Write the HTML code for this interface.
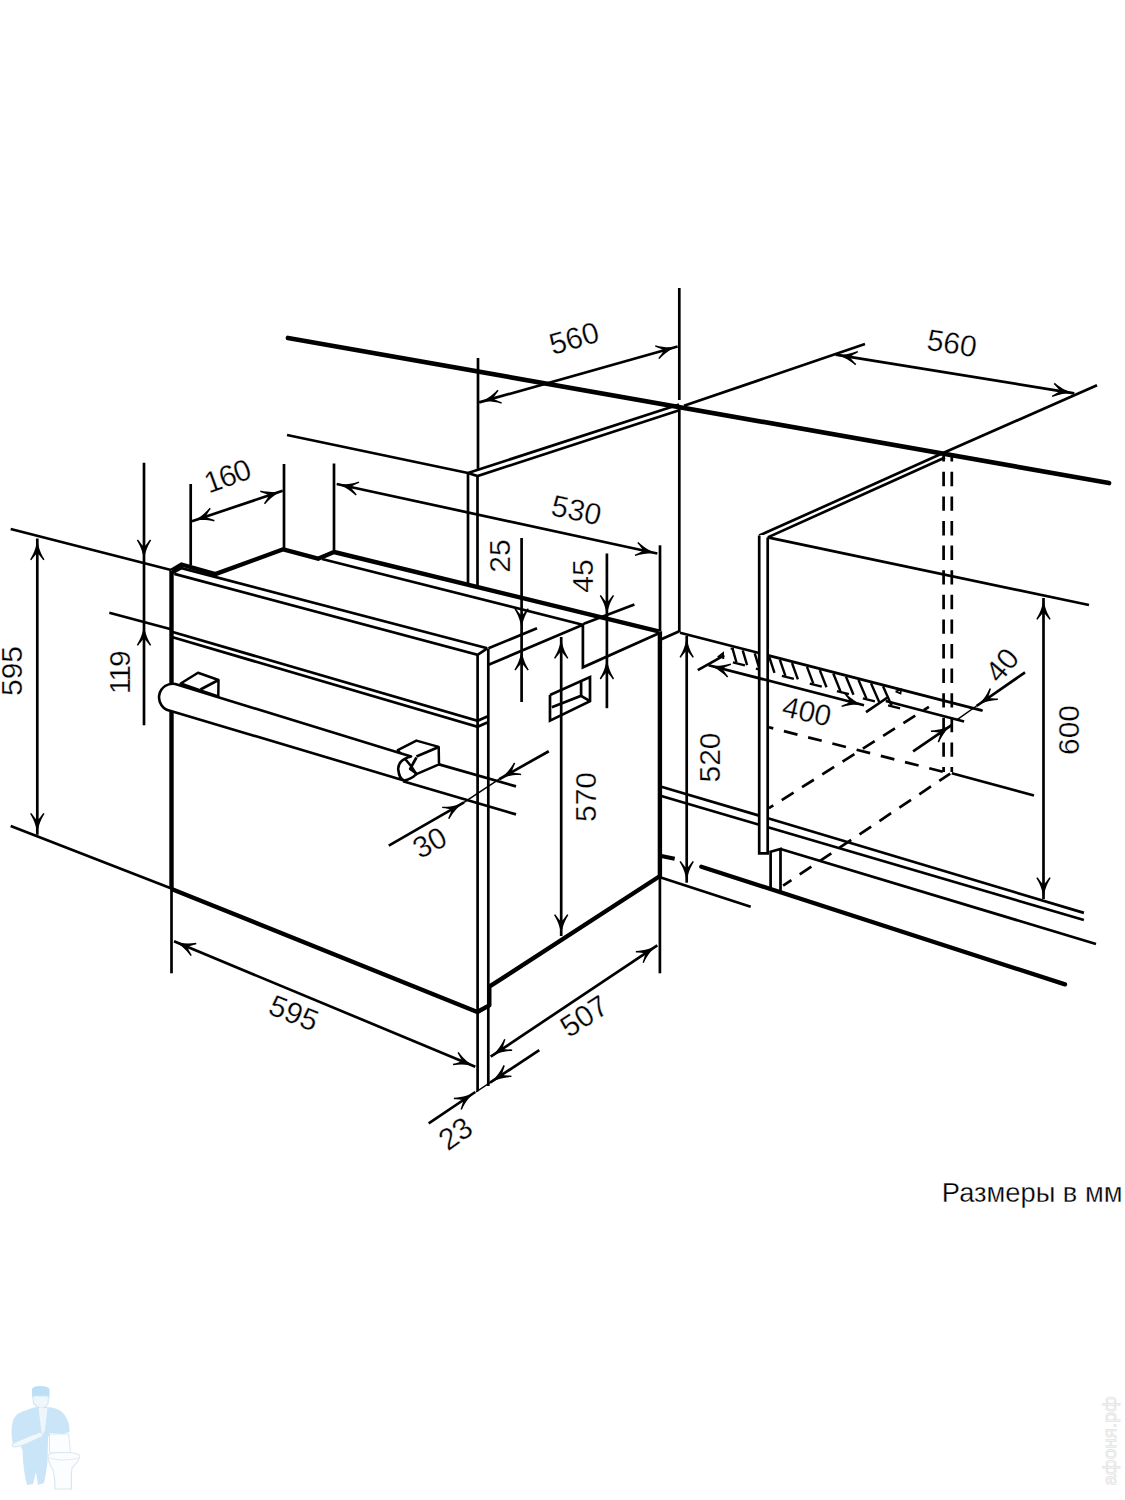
<!DOCTYPE html>
<html><head><meta charset="utf-8"><style>
html,body{margin:0;padding:0;background:#fff;overflow:hidden;}
svg{display:block;}
</style></head><body>
<svg width="1125" height="1500" viewBox="0 0 1125 1500">
<rect width="1125" height="1500" fill="#fff"/>
<g>
<!-- jacket -->
<path d="M27,1410 Q36,1406 40,1407.5 L46,1407 Q58,1407 64,1414 Q70,1422 69.5,1432 L63,1434 L50,1433 L48,1438 L47.5,1462 Q46,1474 44,1483 L38,1485 L36,1472 L33,1484 L27,1485 Q23,1470 22.5,1450 L20,1445 L13,1444 Q10,1432 13,1420 Q17,1412 27,1410 Z" fill="#c9e5f7"/>
<!-- cap -->
<path d="M32,1397.5 L32,1389 Q33,1386 40,1386 Q48,1386 49.5,1389 L49.5,1397.5 Z" fill="#bddff5"/>
<!-- face -->
<path d="M33,1396 L48.5,1396 L48,1404 Q44,1409 40,1408 Q35,1406 33.5,1403 Z" fill="#eef7fc" stroke="#cfe6f5" stroke-width="1.1"/>
<!-- shirt -->
<path d="M38.5,1408 L47.5,1408 L45,1430 L42,1436 Z" fill="#eef6fb"/>
<!-- pipe/arm -->
<path d="M12,1444 Q20,1440 30,1436 L41,1432 L43,1436 L30,1442 Q20,1447 13,1447 Z" fill="#f1f8fc" stroke="#d3e7f4" stroke-width="1"/>
<!-- toilet tank -->
<path d="M49.5,1434 L68.5,1434 Q70,1444 70.5,1453 L49.5,1453 Z" fill="#fbfdff" stroke="#dde6ee" stroke-width="1"/>
<!-- bowl -->
<path d="M48,1456 Q48,1452.5 63,1452.5 Q80,1452.5 79.8,1456.5 Q79,1461 72,1468 Q71,1476 71.5,1489 L55,1489 Q55,1478 53,1470 Q48,1462 48,1456 Z" fill="#fbfdff" stroke="#dce5ee" stroke-width="1.1"/>
<path d="M49,1458 Q63,1462 79,1458" fill="none" stroke="#e0e8ef" stroke-width="0.9"/>
</g>
<text transform="translate(1109,1441) rotate(-90)" x="0" y="0" font-family="Liberation Sans, sans-serif" font-size="19" text-anchor="middle" dominant-baseline="central" fill="#fcfcfc" stroke="#e4e4e4" stroke-width="0.8">афоня.рф</text>

<g stroke="#000" fill="none" stroke-linecap="butt">
<path d="M288.0,338.0 L1109.0,483.0" stroke-width="4.7" stroke-linecap="round"/>
<path d="M287.0,435.0 L468.0,473.0" stroke-width="2.7"/>
<path d="M478.0,358.0 L478.0,470.0" stroke-width="2.7"/>
<path d="M468.0,473.0 L468.0,585.0" stroke-width="2.7"/>
<path d="M477.5,476.0 L477.5,585.0" stroke-width="2.7"/>
<path d="M468.0,473.0 L679.0,404.5" stroke-width="2.7"/>
<path d="M468.0,473.0 L477.5,476.0 L680.0,410.0" stroke-width="2.7"/>
<path d="M679.3,288.0 L679.3,400.0" stroke-width="2.7"/>
<path d="M679.3,407.0 L679.3,632.0" stroke-width="2.7"/>
<path d="M661.3,639.3 L679.3,631.3" stroke-width="2.7"/>
<path d="M479.2,402.4 L677.6,346.5" stroke-width="2.7"/>
<path fill="#000" stroke="none" transform="translate(479.2,402.4) rotate(254.3) scale(1.0)" d="M0,0 C0.6,6 2.2,13 7.2,21 L6.0,21.8 C3.2,18 1.6,16 1.0,15.5 L-1.0,15.5 C-1.6,16 -3.2,18 -6.0,21.8 L-7.2,21 C-2.2,13 -0.6,6 0,0 Z"/>
<path fill="#000" stroke="none" transform="translate(677.6,346.5) rotate(74.3) scale(1.0)" d="M0,0 C0.6,6 2.2,13 7.2,21 L6.0,21.8 C3.2,18 1.6,16 1.0,15.5 L-1.0,15.5 C-1.6,16 -3.2,18 -6.0,21.8 L-7.2,21 C-2.2,13 -0.6,6 0,0 Z"/>
<text font-family="Liberation Sans, sans-serif" fill="#000" stroke="#fff" stroke-width="0.3" x="574.0" y="338.0" font-size="30" text-anchor="middle" dominant-baseline="central" transform="rotate(-16 574.0 338.0)">560</text>
<path d="M684.0,405.8 L865.0,344.0" stroke-width="2.7"/>
<path d="M835.7,354.7 L1074.3,393.3" stroke-width="2.7"/>
<path fill="#000" stroke="none" transform="translate(835.7,354.7) rotate(-80.8) scale(1.0)" d="M0,0 C0.6,6 2.2,13 7.2,21 L6.0,21.8 C3.2,18 1.6,16 1.0,15.5 L-1.0,15.5 C-1.6,16 -3.2,18 -6.0,21.8 L-7.2,21 C-2.2,13 -0.6,6 0,0 Z"/>
<path fill="#000" stroke="none" transform="translate(1074.3,393.3) rotate(99.2) scale(1.0)" d="M0,0 C0.6,6 2.2,13 7.2,21 L6.0,21.8 C3.2,18 1.6,16 1.0,15.5 L-1.0,15.5 C-1.6,16 -3.2,18 -6.0,21.8 L-7.2,21 C-2.2,13 -0.6,6 0,0 Z"/>
<path d="M943.7,452.8 L1097.0,385.3" stroke-width="2.7"/>
<text font-family="Liberation Sans, sans-serif" fill="#000" stroke="#fff" stroke-width="0.3" x="952.0" y="343.0" font-size="30" text-anchor="middle" dominant-baseline="central" transform="rotate(9 952.0 343.0)">560</text>
<path d="M759.2,535.6 L943.7,452.8" stroke-width="2.7"/>
<path d="M759.2,535.6 L767.7,537.4 L945.0,457.5" stroke-width="2.7"/>
<path d="M767.7,537.4 L1089.0,605.0" stroke-width="2.7"/>
<path d="M943.6,455.0 L943.6,772.0" stroke-width="2.7" stroke-dasharray="14.4 10.2" stroke-dashoffset="7.8"/>
<path d="M951.8,455.0 L951.8,772.0" stroke-width="2.7" stroke-dasharray="14.4 10.2" stroke-dashoffset="7.8"/>
<path d="M1043.5,598.0 L1043.5,899.0" stroke-width="2.7"/>
<path fill="#000" stroke="none" transform="translate(1043.5,598.0) rotate(0.0) scale(1.0)" d="M0,0 C0.6,6 2.2,13 7.2,21 L6.0,21.8 C3.2,18 1.6,16 1.0,15.5 L-1.0,15.5 C-1.6,16 -3.2,18 -6.0,21.8 L-7.2,21 C-2.2,13 -0.6,6 0,0 Z"/>
<path fill="#000" stroke="none" transform="translate(1043.5,899.0) rotate(180.0) scale(1.0)" d="M0,0 C0.6,6 2.2,13 7.2,21 L6.0,21.8 C3.2,18 1.6,16 1.0,15.5 L-1.0,15.5 C-1.6,16 -3.2,18 -6.0,21.8 L-7.2,21 C-2.2,13 -0.6,6 0,0 Z"/>
<text font-family="Liberation Sans, sans-serif" fill="#000" stroke="#fff" stroke-width="0.3" x="1068.0" y="730.0" font-size="30" text-anchor="middle" dominant-baseline="central" transform="rotate(-90 1068.0 730.0)">600</text>
<path d="M10.7,529.0 L171.0,570.0" stroke-width="2.7"/>
<path d="M10.7,826.0 L171.5,888.5" stroke-width="2.7"/>
<path d="M37.3,538.5 L37.3,834.7" stroke-width="2.7"/>
<path fill="#000" stroke="none" transform="translate(37.3,538.5) rotate(0.0) scale(1.0)" d="M0,0 C0.6,6 2.2,13 7.2,21 L6.0,21.8 C3.2,18 1.6,16 1.0,15.5 L-1.0,15.5 C-1.6,16 -3.2,18 -6.0,21.8 L-7.2,21 C-2.2,13 -0.6,6 0,0 Z"/>
<path fill="#000" stroke="none" transform="translate(37.3,834.7) rotate(180.0) scale(1.0)" d="M0,0 C0.6,6 2.2,13 7.2,21 L6.0,21.8 C3.2,18 1.6,16 1.0,15.5 L-1.0,15.5 C-1.6,16 -3.2,18 -6.0,21.8 L-7.2,21 C-2.2,13 -0.6,6 0,0 Z"/>
<text font-family="Liberation Sans, sans-serif" fill="#000" stroke="#fff" stroke-width="0.3" x="11.0" y="671.0" font-size="30" text-anchor="middle" dominant-baseline="central" transform="rotate(-90 11.0 671.0)">595</text>
<path d="M144.0,462.7 L144.0,725.3" stroke-width="2.7"/>
<path fill="#000" stroke="none" transform="translate(144.0,561.3) rotate(180.0) scale(1.0)" d="M0,0 C0.6,6 2.2,13 7.2,21 L6.0,21.8 C3.2,18 1.6,16 1.0,15.5 L-1.0,15.5 C-1.6,16 -3.2,18 -6.0,21.8 L-7.2,21 C-2.2,13 -0.6,6 0,0 Z"/>
<path fill="#000" stroke="none" transform="translate(144.0,624.0) rotate(0.0) scale(1.0)" d="M0,0 C0.6,6 2.2,13 7.2,21 L6.0,21.8 C3.2,18 1.6,16 1.0,15.5 L-1.0,15.5 C-1.6,16 -3.2,18 -6.0,21.8 L-7.2,21 C-2.2,13 -0.6,6 0,0 Z"/>
<text font-family="Liberation Sans, sans-serif" fill="#000" stroke="#fff" stroke-width="0.3" x="120.0" y="672.3" font-size="30" text-anchor="middle" dominant-baseline="central" textLength="44" lengthAdjust="spacing" transform="rotate(-90 120.0 672.3)">119</text>
<path d="M109.3,612.8 L171.0,629.3" stroke-width="2.7"/>
<path d="M190.7,484.0 L190.7,565.0" stroke-width="2.7"/>
<path d="M284.0,464.0 L284.0,549.0" stroke-width="2.7"/>
<path d="M192.0,521.3 L282.7,490.7" stroke-width="2.7"/>
<path fill="#000" stroke="none" transform="translate(192.0,521.3) rotate(251.4) scale(1.0)" d="M0,0 C0.6,6 2.2,13 7.2,21 L6.0,21.8 C3.2,18 1.6,16 1.0,15.5 L-1.0,15.5 C-1.6,16 -3.2,18 -6.0,21.8 L-7.2,21 C-2.2,13 -0.6,6 0,0 Z"/>
<path fill="#000" stroke="none" transform="translate(282.7,490.7) rotate(71.4) scale(1.0)" d="M0,0 C0.6,6 2.2,13 7.2,21 L6.0,21.8 C3.2,18 1.6,16 1.0,15.5 L-1.0,15.5 C-1.6,16 -3.2,18 -6.0,21.8 L-7.2,21 C-2.2,13 -0.6,6 0,0 Z"/>
<text font-family="Liberation Sans, sans-serif" fill="#000" stroke="#fff" stroke-width="0.3" x="227.5" y="475.7" font-size="30" text-anchor="middle" dominant-baseline="central" textLength="47.5" lengthAdjust="spacing" transform="rotate(-20 227.5 475.7)">160</text>
<path d="M171.5,570.7 L171.5,889.0" stroke-width="4.4"/>
<path d="M171.5,889.0 L171.5,973.3" stroke-width="2.7"/>
<path d="M171.5,570.7 L181.5,564.5 L215.3,574.1 L283.3,549.3 L318.0,558.7 L334.0,552.0 L658.7,631.3" stroke-width="4.4" stroke-linejoin="round"/>
<path d="M322.0,559.0 L582.7,624.7" stroke-width="2.7"/>
<path d="M172.5,573.0 L181.5,568.1 L487.3,648.3" stroke-width="2.7" stroke-linejoin="round"/>
<path d="M174.3,573.9 L477.6,654.8 L487.3,648.3" stroke-width="2.7"/>
<path d="M172.7,632.0 L477.6,720.8 L487.3,716.4" stroke-width="2.7"/>
<path d="M172.7,637.3 L477.6,726.7 L487.3,722.4" stroke-width="2.7"/>
<path d="M477.6,654.0 L477.6,1091.3" stroke-width="2.7"/>
<path d="M488.3,648.5 L488.3,1086.0" stroke-width="2.7"/>
<path d="M171.5,889.0 L477.3,1012.0 L489.3,1005.3 L489.3,986.7 L660.0,876.0" stroke-width="4.4" stroke-linejoin="round"/>
<path d="M659.9,631.3 L659.9,877.3" stroke-width="4.4"/>
<path d="M659.9,877.3 L659.9,973.3" stroke-width="2.7"/>
<path d="M488.5,664.8 L582.9,624.7 L582.9,667.3 L658.4,633.6" stroke-width="2.7"/>
<path d="M488.5,648.3 L537.0,628.2" stroke-width="2.7"/>
<path d="M583.8,623.8 L634.4,604.6" stroke-width="2.7"/>
<path d="M521.6,538.0 L521.6,702.0" stroke-width="2.7"/>
<path fill="#000" stroke="none" transform="translate(521.6,630.0) rotate(180.0) scale(1.0)" d="M0,0 C0.6,6 2.2,13 7.2,21 L6.0,21.8 C3.2,18 1.6,16 1.0,15.5 L-1.0,15.5 C-1.6,16 -3.2,18 -6.0,21.8 L-7.2,21 C-2.2,13 -0.6,6 0,0 Z"/>
<path fill="#000" stroke="none" transform="translate(521.6,648.7) rotate(0.0) scale(1.0)" d="M0,0 C0.6,6 2.2,13 7.2,21 L6.0,21.8 C3.2,18 1.6,16 1.0,15.5 L-1.0,15.5 C-1.6,16 -3.2,18 -6.0,21.8 L-7.2,21 C-2.2,13 -0.6,6 0,0 Z"/>
<text font-family="Liberation Sans, sans-serif" fill="#000" stroke="#fff" stroke-width="0.3" x="499.4" y="556.0" font-size="30" text-anchor="middle" dominant-baseline="central" transform="rotate(-90 499.4 556.0)">25</text>
<path d="M606.9,553.5 L606.9,708.2" stroke-width="2.7"/>
<path fill="#000" stroke="none" transform="translate(606.9,616.7) rotate(180.0) scale(1.0)" d="M0,0 C0.6,6 2.2,13 7.2,21 L6.0,21.8 C3.2,18 1.6,16 1.0,15.5 L-1.0,15.5 C-1.6,16 -3.2,18 -6.0,21.8 L-7.2,21 C-2.2,13 -0.6,6 0,0 Z"/>
<path fill="#000" stroke="none" transform="translate(606.9,657.6) rotate(0.0) scale(1.0)" d="M0,0 C0.6,6 2.2,13 7.2,21 L6.0,21.8 C3.2,18 1.6,16 1.0,15.5 L-1.0,15.5 C-1.6,16 -3.2,18 -6.0,21.8 L-7.2,21 C-2.2,13 -0.6,6 0,0 Z"/>
<text font-family="Liberation Sans, sans-serif" fill="#000" stroke="#fff" stroke-width="0.3" x="582.7" y="576.0" font-size="30" text-anchor="middle" dominant-baseline="central" transform="rotate(-90 582.7 576.0)">45</text>
<path d="M334.0,463.5 L334.0,550.7" stroke-width="2.7"/>
<path d="M660.0,545.3 L660.0,631.0" stroke-width="2.7"/>
<path d="M336.7,484.0 L657.3,553.5" stroke-width="2.7"/>
<path fill="#000" stroke="none" transform="translate(336.7,484.0) rotate(-77.8) scale(1.0)" d="M0,0 C0.6,6 2.2,13 7.2,21 L6.0,21.8 C3.2,18 1.6,16 1.0,15.5 L-1.0,15.5 C-1.6,16 -3.2,18 -6.0,21.8 L-7.2,21 C-2.2,13 -0.6,6 0,0 Z"/>
<path fill="#000" stroke="none" transform="translate(657.3,553.5) rotate(102.2) scale(1.0)" d="M0,0 C0.6,6 2.2,13 7.2,21 L6.0,21.8 C3.2,18 1.6,16 1.0,15.5 L-1.0,15.5 C-1.6,16 -3.2,18 -6.0,21.8 L-7.2,21 C-2.2,13 -0.6,6 0,0 Z"/>
<text font-family="Liberation Sans, sans-serif" fill="#000" stroke="#fff" stroke-width="0.3" x="576.5" y="510.0" font-size="30" text-anchor="middle" dominant-baseline="central" transform="rotate(12 576.5 510.0)">530</text>
<path d="M561.2,637.0 L561.2,936.0" stroke-width="2.7"/>
<path fill="#000" stroke="none" transform="translate(561.2,637.0) rotate(0.0) scale(1.0)" d="M0,0 C0.6,6 2.2,13 7.2,21 L6.0,21.8 C3.2,18 1.6,16 1.0,15.5 L-1.0,15.5 C-1.6,16 -3.2,18 -6.0,21.8 L-7.2,21 C-2.2,13 -0.6,6 0,0 Z"/>
<path fill="#000" stroke="none" transform="translate(561.2,936.0) rotate(180.0) scale(1.0)" d="M0,0 C0.6,6 2.2,13 7.2,21 L6.0,21.8 C3.2,18 1.6,16 1.0,15.5 L-1.0,15.5 C-1.6,16 -3.2,18 -6.0,21.8 L-7.2,21 C-2.2,13 -0.6,6 0,0 Z"/>
<text font-family="Liberation Sans, sans-serif" fill="#000" stroke="#fff" stroke-width="0.3" x="585.6" y="797.0" font-size="30" text-anchor="middle" dominant-baseline="central" transform="rotate(-90 585.6 797.0)">570</text>
<path d="M686.7,636.0 L686.7,882.7" stroke-width="2.7"/>
<path fill="#000" stroke="none" transform="translate(686.7,636.0) rotate(0.0) scale(1.0)" d="M0,0 C0.6,6 2.2,13 7.2,21 L6.0,21.8 C3.2,18 1.6,16 1.0,15.5 L-1.0,15.5 C-1.6,16 -3.2,18 -6.0,21.8 L-7.2,21 C-2.2,13 -0.6,6 0,0 Z"/>
<path fill="#000" stroke="none" transform="translate(686.7,882.7) rotate(180.0) scale(1.0)" d="M0,0 C0.6,6 2.2,13 7.2,21 L6.0,21.8 C3.2,18 1.6,16 1.0,15.5 L-1.0,15.5 C-1.6,16 -3.2,18 -6.0,21.8 L-7.2,21 C-2.2,13 -0.6,6 0,0 Z"/>
<text font-family="Liberation Sans, sans-serif" fill="#000" stroke="#fff" stroke-width="0.3" x="709.0" y="757.5" font-size="30" text-anchor="middle" dominant-baseline="central" transform="rotate(-90 709.0 757.5)">520</text>
<path d="M550.0,694.9 L590.0,677.1 L590.0,701.1 L550.0,720.7 L550.0,694.9" stroke-width="2.7"/>
<path d="M551.8,707.3 L581.1,695.8 L581.1,680.7" stroke-width="2.7"/>
<path d="M581.1,695.8 L590.0,701.1" stroke-width="2.7"/>
<path d="M180.7,683.5 L198,672.8 L218.5,680 L218.3,696.5 L200.5,690.5 Z" fill="#fff" stroke-width="2.5" stroke-linejoin="round"/>
<path d="M200.5,689.5 L218.5,680.0" stroke-width="2.7"/>
<path d="M397.8,750.2 L416.4,740.6 L438.7,746.9 L439,764.4 L416.4,774.2 L411,766 Z" fill="#fff" stroke-width="2.5" stroke-linejoin="round"/>
<path d="M416.4,756.4 L438.7,746.9" stroke-width="2.7"/>
<path d="M175.3,684 L411.1,756.4 C402,758.5 397.5,764 398.3,770 C399,776 401.5,779.5 404,780.4 L170,710.7 A13.4,13.4 0 0,1 175.3,684 Z" fill="#fff" stroke-width="2.6" stroke-linejoin="round"/>
<path d="M404,780.4 C408.5,780 413,777.5 416.4,774.2" stroke-width="2.5"/>
<path d="M416.4,757.5 L410.2,768.9 L416.4,773.5" stroke-width="2.7" stroke-linejoin="round"/>
<path d="M439.0,764.4 L516.0,786.4" stroke-width="2.7"/>
<path d="M403.1,781.3 L516.0,814.4" stroke-width="2.7"/>
<path d="M464.0,802.4 L499.2,779.2" stroke-width="1.5"/>
<path d="M388.8,845.6 L464.0,802.4" stroke-width="2.7"/>
<path d="M499.2,779.2 L548.8,751.2" stroke-width="2.7"/>
<path fill="#000" stroke="none" transform="translate(464.0,802.4) rotate(60.1) scale(1.0)" d="M0,0 C0.6,6 2.2,13 7.2,21 L6.0,21.8 C3.2,18 1.6,16 1.0,15.5 L-1.0,15.5 C-1.6,16 -3.2,18 -6.0,21.8 L-7.2,21 C-2.2,13 -0.6,6 0,0 Z"/>
<path fill="#000" stroke="none" transform="translate(499.2,779.2) rotate(240.6) scale(1.0)" d="M0,0 C0.6,6 2.2,13 7.2,21 L6.0,21.8 C3.2,18 1.6,16 1.0,15.5 L-1.0,15.5 C-1.6,16 -3.2,18 -6.0,21.8 L-7.2,21 C-2.2,13 -0.6,6 0,0 Z"/>
<text font-family="Liberation Sans, sans-serif" fill="#000" stroke="#fff" stroke-width="0.3" x="429.6" y="842.4" font-size="30" text-anchor="middle" dominant-baseline="central" transform="rotate(-28 429.6 842.4)">30</text>
<path d="M174.0,941.3 L475.3,1066.7" stroke-width="2.7"/>
<path fill="#000" stroke="none" transform="translate(174.0,941.3) rotate(-67.4) scale(1.0)" d="M0,0 C0.6,6 2.2,13 7.2,21 L6.0,21.8 C3.2,18 1.6,16 1.0,15.5 L-1.0,15.5 C-1.6,16 -3.2,18 -6.0,21.8 L-7.2,21 C-2.2,13 -0.6,6 0,0 Z"/>
<path fill="#000" stroke="none" transform="translate(475.3,1066.7) rotate(112.6) scale(1.0)" d="M0,0 C0.6,6 2.2,13 7.2,21 L6.0,21.8 C3.2,18 1.6,16 1.0,15.5 L-1.0,15.5 C-1.6,16 -3.2,18 -6.0,21.8 L-7.2,21 C-2.2,13 -0.6,6 0,0 Z"/>
<text font-family="Liberation Sans, sans-serif" fill="#000" stroke="#fff" stroke-width="0.3" x="294.0" y="1013.0" font-size="30" text-anchor="middle" dominant-baseline="central" transform="rotate(22 294.0 1013.0)">595</text>
<path d="M490.7,1056.7 L657.3,945.3" stroke-width="2.7"/>
<path fill="#000" stroke="none" transform="translate(490.7,1056.7) rotate(236.2) scale(1.0)" d="M0,0 C0.6,6 2.2,13 7.2,21 L6.0,21.8 C3.2,18 1.6,16 1.0,15.5 L-1.0,15.5 C-1.6,16 -3.2,18 -6.0,21.8 L-7.2,21 C-2.2,13 -0.6,6 0,0 Z"/>
<path fill="#000" stroke="none" transform="translate(657.3,945.3) rotate(56.2) scale(1.0)" d="M0,0 C0.6,6 2.2,13 7.2,21 L6.0,21.8 C3.2,18 1.6,16 1.0,15.5 L-1.0,15.5 C-1.6,16 -3.2,18 -6.0,21.8 L-7.2,21 C-2.2,13 -0.6,6 0,0 Z"/>
<text font-family="Liberation Sans, sans-serif" fill="#000" stroke="#fff" stroke-width="0.3" x="584.0" y="1016.0" font-size="30" text-anchor="middle" dominant-baseline="central" transform="rotate(-33 584.0 1016.0)">507</text>
<path d="M539.3,1050.0 L490.0,1082.7" stroke-width="2.7"/>
<path d="M490.0,1082.7 L476.0,1092.0" stroke-width="1.5"/>
<path fill="#000" stroke="none" transform="translate(490.0,1082.7) rotate(236.4) scale(1.0)" d="M0,0 C0.6,6 2.2,13 7.2,21 L6.0,21.8 C3.2,18 1.6,16 1.0,15.5 L-1.0,15.5 C-1.6,16 -3.2,18 -6.0,21.8 L-7.2,21 C-2.2,13 -0.6,6 0,0 Z"/>
<path d="M428.7,1123.3 L475.3,1092.0" stroke-width="2.7"/>
<path fill="#000" stroke="none" transform="translate(475.3,1092.0) rotate(56.1) scale(1.0)" d="M0,0 C0.6,6 2.2,13 7.2,21 L6.0,21.8 C3.2,18 1.6,16 1.0,15.5 L-1.0,15.5 C-1.6,16 -3.2,18 -6.0,21.8 L-7.2,21 C-2.2,13 -0.6,6 0,0 Z"/>
<text font-family="Liberation Sans, sans-serif" fill="#000" stroke="#fff" stroke-width="0.3" x="455.3" y="1133.3" font-size="30" text-anchor="middle" dominant-baseline="central" transform="rotate(-35 455.3 1133.3)">23</text>
<path d="M661.3,786.7 L760.0,815.9" stroke-width="2.7"/>
<path d="M661.3,796.0 L760.0,825.0" stroke-width="2.7"/>
<path d="M768.0,818.3 L1083.9,912.9" stroke-width="2.7"/>
<path d="M768.0,827.3 L1083.9,920.0" stroke-width="2.7"/>
<path d="M680.0,632.8 L760.0,653.3" stroke-width="2.7"/>
<path d="M768.0,655.3 L981.5,710.3" stroke-width="2.9" stroke-linecap="round"/>
<path d="M885.8,701.0 L964.1,721.5" stroke-width="2.7"/>
<path d="M732.3,647.7 L736.4,662.3" stroke-width="2.4"/>
<path d="M732.9,662.3 L744.9,665.3" stroke-width="2.4"/>
<path d="M742.7,650.4 L747.1,665.2" stroke-width="2.4"/>
<path d="M754.7,653.4 L759.4,668.7" stroke-width="2.4"/>
<path d="M755.9,668.7 L767.9,671.7" stroke-width="2.4"/>
<path d="M769.3,657.2 L774.5,672.8" stroke-width="2.4"/>
<path d="M779.9,659.9 L785.4,675.9" stroke-width="2.4"/>
<path d="M781.9,675.9 L793.9,678.9" stroke-width="2.4"/>
<path d="M792.0,663.0 L797.9,679.3" stroke-width="2.4"/>
<path d="M807.0,666.8 L813.3,683.6" stroke-width="2.4"/>
<path d="M809.8,683.6 L821.8,686.6" stroke-width="2.4"/>
<path d="M819.8,670.1 L826.5,687.3" stroke-width="2.4"/>
<path d="M833.3,673.5 L840.4,691.1" stroke-width="2.4"/>
<path d="M836.9,691.1 L848.9,694.1" stroke-width="2.4"/>
<path d="M846.0,676.8 L853.5,694.8" stroke-width="2.4"/>
<path d="M858.5,680.0 L866.4,698.4" stroke-width="2.4"/>
<path d="M862.9,698.4 L874.9,701.4" stroke-width="2.4"/>
<path d="M871.0,683.2 L879.2,701.9" stroke-width="2.4"/>
<path d="M883.0,686.3 L891.6,705.4" stroke-width="2.4"/>
<path d="M888.1,705.4 L900.1,708.4" stroke-width="2.4"/>
<path d="M730.6,648.5 L733.8,648.9" stroke-width="2.0"/>
<path d="M895.6,691.5 L901.0,689.5 L900.5,693.5 L895.6,691.5" stroke-width="1.8"/>
<path d="M770.6,889.0 L770.6,851.8 L780.5,849.0 L780.5,891.0" stroke-width="2.7"/>
<path d="M780.5,849.0 L1096.0,944.0" stroke-width="2.7"/>
<path d="M701.3,866.7 L1065.0,984.4" stroke-width="4.3" stroke-linecap="round"/>
<path d="M661.3,856.0 L674.7,858.7" stroke-width="4.2"/>
<path d="M660.0,877.3 L750.7,906.7" stroke-width="2.7"/>
<path d="M951.8,773.3 L1034.0,795.5" stroke-width="2.7"/>
<rect x="759.5" y="535" width="8" height="318" fill="#fff" stroke="none"/>
<path d="M759.2,535.6 L759.2,853.3 L767.7,853.3 L767.7,537.4" stroke-width="2.7"/>
<path d="M768.9,727.3 L943.1,771.8" stroke-width="2.7" stroke-dasharray="14 11" stroke-dashoffset="9.5"/>
<path d="M768.9,808.2 L928.9,706.9" stroke-width="2.7" stroke-dasharray="14 10" stroke-dashoffset="8.8"/>
<path d="M783.1,885.6 L950.2,773.6" stroke-width="2.7" stroke-dasharray="14 10" stroke-dashoffset="4"/>
<path d="M708.6,665.2 L864.0,705.3" stroke-width="2.7"/>
<path fill="#000" stroke="none" transform="translate(708.6,665.2) rotate(-75.5) scale(1.0)" d="M0,0 C0.6,6 2.2,13 7.2,21 L6.0,21.8 C3.2,18 1.6,16 1.0,15.5 L-1.0,15.5 C-1.6,16 -3.2,18 -6.0,21.8 L-7.2,21 C-2.2,13 -0.6,6 0,0 Z"/>
<path fill="#000" stroke="none" transform="translate(864.0,705.3) rotate(104.5) scale(1.0)" d="M0,0 C0.6,6 2.2,13 7.2,21 L6.0,21.8 C3.2,18 1.6,16 1.0,15.5 L-1.0,15.5 C-1.6,16 -3.2,18 -6.0,21.8 L-7.2,21 C-2.2,13 -0.6,6 0,0 Z"/>
<path d="M697.8,670.1 L724.2,655.4" stroke-width="2.7"/>
<path d="M717.8,657.3 L723.0,653.3 L723.3,659.0" stroke-width="2.0"/>
<path d="M866.0,712.1 L887.5,697.5" stroke-width="2.7"/>
<text font-family="Liberation Sans, sans-serif" fill="#000" stroke="#fff" stroke-width="0.3" x="807.0" y="711.0" font-size="29.5" text-anchor="middle" dominant-baseline="central" transform="rotate(13 807.0 711.0)">400</text>
<path d="M1025.0,672.4 L976.5,706.0" stroke-width="2.7"/>
<path d="M976.5,706.0 L957.2,719.6" stroke-width="1.5"/>
<path fill="#000" stroke="none" transform="translate(976.5,706.0) rotate(235.3) scale(1.0)" d="M0,0 C0.6,6 2.2,13 7.2,21 L6.0,21.8 C3.2,18 1.6,16 1.0,15.5 L-1.0,15.5 C-1.6,16 -3.2,18 -6.0,21.8 L-7.2,21 C-2.2,13 -0.6,6 0,0 Z"/>
<path d="M913.1,751.4 L952.3,724.6" stroke-width="2.7"/>
<path fill="#000" stroke="none" transform="translate(952.3,724.6) rotate(55.6) scale(1.0)" d="M0,0 C0.6,6 2.2,13 7.2,21 L6.0,21.8 C3.2,18 1.6,16 1.0,15.5 L-1.0,15.5 C-1.6,16 -3.2,18 -6.0,21.8 L-7.2,21 C-2.2,13 -0.6,6 0,0 Z"/>
<text font-family="Liberation Sans, sans-serif" fill="#000" stroke="#fff" stroke-width="0.3" x="1002.0" y="665.0" font-size="30" text-anchor="middle" dominant-baseline="central" transform="rotate(-50 1002.0 665.0)">40</text>
</g>
<text font-family="Liberation Sans, sans-serif" fill="#000" stroke="#fff" stroke-width="0.3" x="1122.5" y="1202.3" font-size="27.3" text-anchor="end">Размеры в мм</text>
</svg>
</body></html>
